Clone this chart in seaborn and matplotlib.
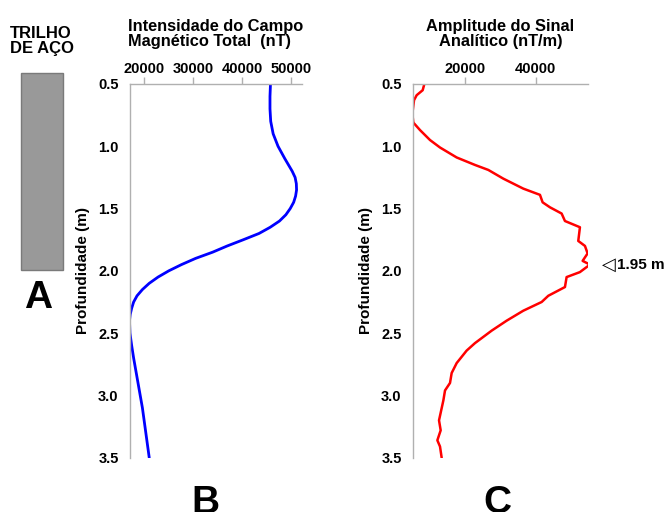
import matplotlib
matplotlib.use("Agg")
import matplotlib.pyplot as plt
import matplotlib.transforms as mtransforms
from matplotlib.patches import Rectangle
import seaborn as sns
import pandas as pd

# Total magnetic field intensity (nT) versus depth (m)
depth_tmi = [0.50, 0.60, 0.70, 0.80, 0.90, 1.00, 1.10, 1.20, 1.25, 1.30, 1.35, 1.40,
             1.45, 1.50, 1.55, 1.60, 1.65, 1.70, 1.75, 1.80, 1.85, 1.90, 1.95, 2.00,
             2.05, 2.10, 2.15, 2.20, 2.25, 2.30, 2.35, 2.40, 2.50, 2.60, 2.70, 2.90,
             3.10, 3.30, 3.50]
tmi = [45850, 45750, 45750, 45900, 46400, 47400, 48800, 50300, 50900, 51150, 51200,
       51000, 50600, 49900, 49000, 47700, 45800, 43500, 40300, 37000, 34000, 30500,
       27600, 25000, 22800, 21000, 19600, 18500, 17800, 17400, 17100, 16950, 17050,
       17400, 17800, 18700, 19600, 20300, 21000]

# Analytic signal amplitude (nT/m) versus depth (m)
depth_as = [0.50, 0.55, 0.59, 0.63, 0.74, 0.81, 0.87, 0.95, 1.01, 1.09, 1.15, 1.19,
            1.26, 1.34, 1.39, 1.45, 1.49, 1.54, 1.60, 1.65, 1.76, 1.80, 1.86, 1.92,
            1.95, 2.01, 2.05, 2.13, 2.20, 2.25, 2.32, 2.40, 2.48, 2.58, 2.64, 2.74,
            2.82, 2.90, 2.96, 3.04, 3.20, 3.28, 3.36, 3.41, 3.50]
asa = [8500, 8030, 6330, 5580, 5100, 5390, 7270, 10100, 12930, 17650, 22830, 26600,
       30850, 36500, 41220, 41970, 44050, 47350, 48290, 52530, 52060, 53950, 54700,
       53290, 55360, 52530, 48760, 48290, 43580, 41700, 36500, 31790, 27550, 22830,
       20470, 17650, 16230, 15760, 14350, 13880, 12650, 13120, 12180, 12930, 13400]

tmi_ticks = [20000, 30000, 40000, 50000]
asa_ticks = [20000, 40000]
depth_ticks = [0.5, 1.0, 1.5, 2.0, 2.5, 3.0, 3.5]
peak_depth = 1.95

sns.set_theme(style="white")
plt.rcParams["font.family"] = ["Liberation Sans", "DejaVu Sans"]
plt.rcParams["font.weight"] = "bold"
plt.rcParams["text.color"] = "black"
plt.rcParams["axes.labelcolor"] = "black"
plt.rcParams["xtick.labelcolor"] = "black"
plt.rcParams["ytick.labelcolor"] = "black"

fig = plt.figure(figsize=(6.68, 5.12), dpi=100)
fig.patch.set_facecolor("white")

ax_b = fig.add_axes([0.1942, 0.106, 0.2578, 0.730])
ax_c = fig.add_axes([0.6178, 0.106, 0.2629, 0.730])

df_b = pd.DataFrame({"depth": depth_tmi, "value": tmi})
df_c = pd.DataFrame({"depth": depth_as, "value": asa})

sns.lineplot(data=df_b, x="value", y="depth", orient="y", sort=False,
             estimator=None, color="#0000ff", lw=2.0, ax=ax_b)
sns.lineplot(data=df_c, x="value", y="depth", orient="y", sort=False,
             estimator=None, color="#ff0000", lw=1.8, ax=ax_c)

spine_gray = "#b0b0b0"
for ax, xlim, xt in [(ax_b, (17000, 52300), tmi_ticks), (ax_c, (5200, 54900), asa_ticks)]:
    ax.set_xlim(*xlim)
    ax.set_ylim(3.5, 0.5)
    ax.set_xticks(xt)
    ax.set_xticklabels([str(t) for t in xt])
    ax.set_yticks(depth_ticks)
    ax.set_yticklabels([f"{t:.1f}" for t in depth_ticks])
    ax.xaxis.tick_top()
    ax.xaxis.set_label_position("top")
    ax.set_xlabel("")
    ax.set_ylabel("Profundidade (m)", fontsize=11, fontweight="bold", labelpad=6,
                  color="black")
    for side in ["right", "bottom"]:
        ax.spines[side].set_visible(False)
    for side in ["top", "left"]:
        ax.spines[side].set_visible(True)
        ax.spines[side].set_color(spine_gray)
        ax.spines[side].set_linewidth(1.0)
    ax.tick_params(axis="both", which="major", direction="out", length=5,
                   width=1, color=spine_gray, labelsize=10.5, labelcolor="black")
    ax.tick_params(axis="x", pad=1)
    ax.tick_params(axis="y", pad=3)
    for lab in ax.get_xticklabels() + ax.get_yticklabels():
        lab.set_fontweight("bold")
    ax.set_facecolor("white")

ax_b.set_title("Intensidade do Campo\nMagnético Total  (nT)", fontsize=11.8,
               fontweight="bold", pad=27, loc="center", multialignment="left",
               color="black", linespacing=1.05)
ax_c.set_title("Amplitude do Sinal\nAnalítico (nT/m)", fontsize=11.8,
               fontweight="bold", pad=27, loc="center", color="black",
               linespacing=1.05)

# Peak marker of the analytic signal
trans = mtransforms.blended_transform_factory(ax_c.transAxes, ax_c.transData)
ax_c.annotate("\u25c1", xy=(1.0, peak_depth), xycoords=trans,
              xytext=(9.5, 0), textcoords="offset points", ha="left", va="center",
              fontsize=13, family="DejaVu Sans", color="black", annotation_clip=False)
ax_c.annotate("1.95 m", xy=(1.0, peak_depth), xycoords=trans,
              xytext=(20.5, 0), textcoords="offset points", ha="left", va="center",
              fontsize=11, fontweight="bold", color="black", annotation_clip=False)

# Steel rail sketch
fig.patches.append(Rectangle((0.0314, 0.4727), 0.0629, 0.3853, transform=fig.transFigure,
                             facecolor="#999999", edgecolor="#7a7a7a", lw=1.0))
fig.text(0.015, 0.950, "TRILHO\nDE AÇO", ha="left", va="top", fontsize=12,
         fontweight="bold", linespacing=1.05, color="black")

fig.text(0.057, 0.418, "A", ha="center", va="center", fontsize=28, fontweight="bold",
         color="black")
fig.text(0.307, 0.052, "B", ha="center", va="top", fontsize=28, fontweight="bold",
         color="black")
fig.text(0.744, 0.052, "C", ha="center", va="top", fontsize=28, fontweight="bold",
         color="black")

fig.savefig("out.png", dpi=100, facecolor="white")
